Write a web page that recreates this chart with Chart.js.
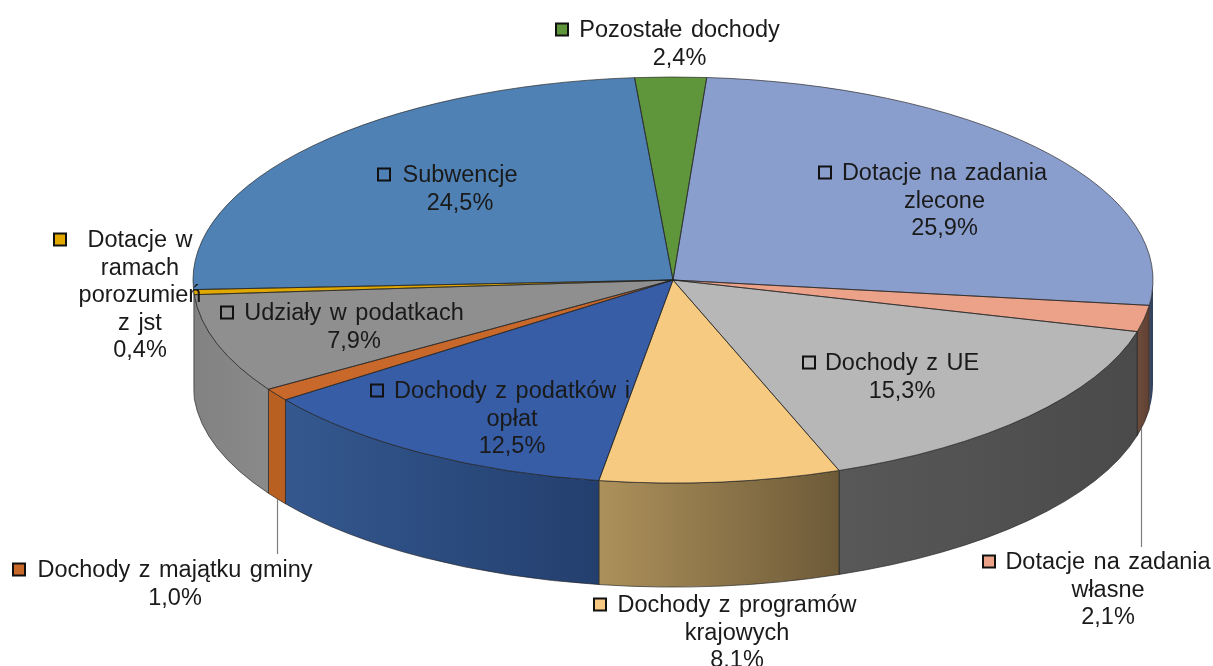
<!DOCTYPE html>
<html lang="pl">
<head>
<meta charset="utf-8">
<title>Struktura dochodów</title>
<script src="https://cdn.jsdelivr.net/npm/chart.js@4"></script>
<style>
  html, body { margin: 0; padding: 0; background: #fff; }
  canvas { display: block; }
</style>
</head>
<body>
<canvas id="pie" width="1213" height="666"></canvas>
<script>
// Data, clockwise from the slice at the top
const categories = [
  'Pozostałe dochody',
  ['Dotacje na zadania', 'zlecone'],
  ['Dotacje na zadania', 'własne'],
  'Dochody z UE',
  ['Dochody z programów', 'krajowych'],
  ['Dochody z podatków i', 'opłat'],
  'Dochody z majątku gminy',
  'Udziały w podatkach',
  ['Dotacje w', 'ramach', 'porozumień', 'z jst'],
  'Subwencje'
];
const shares = [2.4, 25.9, 2.1, 15.3, 8.1, 12.5, 1.0, 7.9, 0.4, 24.5];

// Styles
const topColors = ['#5F963C', '#8A9ECE', '#EBA288', '#B7B7B7', '#F6CA80', '#365DA6', '#C9682B', '#8F8F8F', '#E1A800', '#4F81B4'];
const wallLeft = ['#4C7530', '#3A4A6A', '#6E4C3C', '#585858', '#AD915B', '#34588F', '#B85F22', '#828282', '#828282', '#828282'];
const wallRight = ['#4C7530', '#2F3E58', '#5E4032', '#4A4A4A', '#6D5A38', '#233F6E', '#B85F22', '#8A8A8A', '#828282', '#828282'];

// Label anchors: centre of the text block, y of first line, x of the key square
const labelPos = [
  { cx: 679.5, y: 29, key: 556 },
  { cx: 944.5, y: 172, key: 819 },
  { cx: 1108, y: 561, key: 983 },
  { cx: 902, y: 362, key: 803 },
  { cx: 737, y: 604, key: 594 },
  { cx: 512, y: 390, key: 371 },
  { cx: 175, y: 569, key: 13 },
  { cx: 354, y: 312, key: 221 },
  { cx: 140, y: 239, key: 54 },
  { cx: 460, y: 174, key: 378 }
];
const leaders = [
  [1141.5, 428, 547],
  [277.5, 499, 554]
];

const SQUASH = 203 / 480;
const DEPTH = 104;
const LINE_H = 27.6;
const EDGE = 'rgba(30,30,30,0.65)';

const pie3d = {
  id: 'pie3d',
  beforeDatasetDraw(chart) {
    const ctx = chart.ctx;
    const arcs = chart.getDatasetMeta(0).data;
    // side wall, only the front half of the rim shows
    arcs.forEach((arc, i) => {
      const a0 = Math.max(arc.startAngle, 0);
      const a1 = Math.min(arc.endAngle, Math.PI);
      if (a1 <= a0) return;
      const rx = arc.outerRadius, ry = rx * SQUASH;
      const xa = arc.x + rx * Math.cos(a1), xb = arc.x + rx * Math.cos(a0);
      const grad = ctx.createLinearGradient(xa, 0, xb, 0);
      grad.addColorStop(0, wallLeft[i]);
      grad.addColorStop(1, wallRight[i]);
      ctx.beginPath();
      ctx.ellipse(arc.x, arc.y, rx, ry, 0, a0, a1);
      ctx.ellipse(arc.x, arc.y + DEPTH, rx, ry, 0, a1, a0, true);
      ctx.closePath();
      ctx.fillStyle = grad;
      ctx.fill();
      // slivers at the far left get no outline, it would just go black
      if (xb - xa > 4) {
        ctx.lineWidth = 1;
        ctx.strokeStyle = EDGE;
        ctx.stroke();
      }
    });
    // squash the circle the library draws into the tilted disc
    const first = arcs[0];
    ctx.save();
    ctx.translate(first.x, first.y);
    ctx.scale(1, SQUASH);
    ctx.translate(-first.x, -first.y);
  },
  afterDatasetDraw(chart) {
    const ctx = chart.ctx;
    ctx.restore();
    chart.getDatasetMeta(0).data.forEach((arc) => {
      const rx = arc.outerRadius, ry = rx * SQUASH;
      ctx.beginPath();
      ctx.moveTo(arc.x, arc.y);
      ctx.ellipse(arc.x, arc.y, rx, ry, 0, arc.startAngle, arc.endAngle);
      ctx.closePath();
      ctx.lineWidth = 1;
      ctx.strokeStyle = EDGE;
      ctx.stroke();
    });
  },
  afterDraw(chart) {
    const ctx = chart.ctx;
    ctx.save();
    ctx.strokeStyle = '#7f7f7f';
    ctx.lineWidth = 1.2;
    leaders.forEach(([x, y0, y1]) => {
      ctx.beginPath();
      ctx.moveTo(x, y0);
      ctx.lineTo(x, y1);
      ctx.stroke();
    });

    ctx.font = '23.5px "Liberation Sans", Arial, sans-serif';
    ctx.wordSpacing = '2px';
    ctx.textAlign = 'center';
    ctx.textBaseline = 'middle';
    categories.forEach((cat, i) => {
      const pos = labelPos[i];
      const lines = [].concat(cat, shares[i].toFixed(1).replace('.', ',') + '%');
      ctx.fillStyle = '#1a1a1a';
      lines.forEach((line, n) => ctx.fillText(line, pos.cx, pos.y + 1.5 + n * LINE_H));
      ctx.fillStyle = topColors[i];
      ctx.strokeStyle = '#111';
      ctx.lineWidth = 2;
      ctx.fillRect(pos.key, pos.y - 5.5, 12, 12);
      ctx.strokeRect(pos.key, pos.y - 5.5, 12, 12);
    });
    ctx.restore();
  }
};

new Chart(document.getElementById('pie'), {
  type: 'pie',
  plugins: [pie3d],
  data: {
    labels: categories,
    datasets: [{
      data: shares,
      backgroundColor: topColors,
      borderWidth: 0,
      clip: false
    }]
  },
  options: {
    responsive: false,
    animation: false,
    events: [],
    rotation: -4.6,
    radius: 480,
    layout: { padding: { left: 133, right: 0, top: 0, bottom: 106 } },
    plugins: { legend: { display: false }, tooltip: { enabled: false } }
  }
});
</script>
</body>
</html>
